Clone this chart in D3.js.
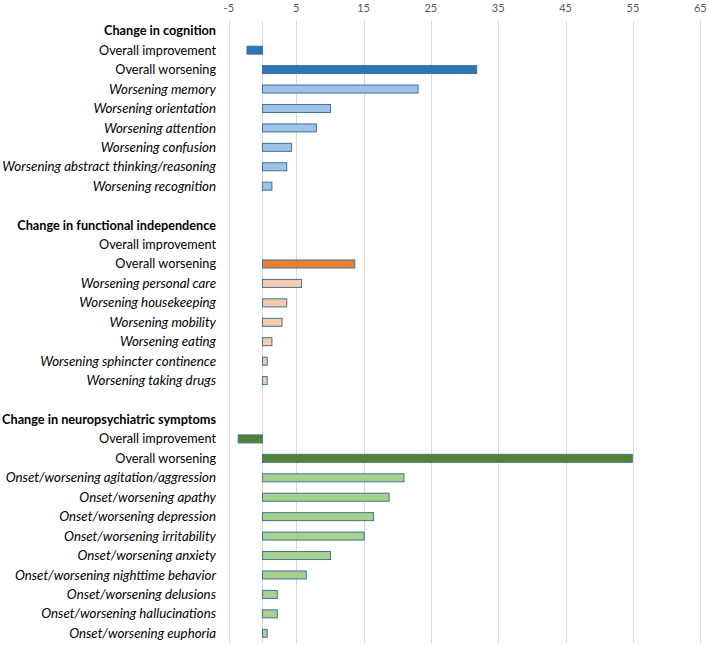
<!DOCTYPE html>
<html>
<head>
<meta charset="utf-8">
<script src="https://cdn.jsdelivr.net/npm/d3@7"></script>
<style>
body{margin:0;background:#fff}
text{font-family:Lato,"Open Sans",sans-serif}
</style>
</head>
<body>
<svg id="svg" width="709" height="646"></svg>
<script>
var width=+d3.select("#svg").attr("width")
var height=+d3.select("#svg").attr("height")

var groupTitles=["Change in cognition","Change in functional independence","Change in neuropsychiatric symptoms"]

var cognitionLabels=["Overall improvement","Overall worsening","Worsening memory","Worsening orientation","Worsening attention","Worsening confusion","Worsening abstract thinking/reasoning","Worsening recognition"]
var cognitionValues=[-2.3,31.8,23.1,10.1,8.0,4.3,3.6,1.4]

var functionLabels=["Overall improvement","Overall worsening","Worsening personal care","Worsening housekeeping","Worsening mobility","Worsening eating","Worsening sphincter continence","Worsening taking drugs"]
var functionValues=[null,13.7,5.8,3.6,2.9,1.4,0.7,0.7]

var neuroLabels=["Overall improvement","Overall worsening","Onset/worsening agitation/aggression","Onset/worsening apathy","Onset/worsening depression","Onset/worsening irritability","Onset/worsening anxiety ","Onset/worsening nighttime behavior","Onset/worsening delusions","Onset/worsening hallucinations","Onset/worsening euphoria"]
var neuroValues=[-3.6,54.9,21.0,18.8,16.5,15.1,10.1,6.5,2.2,2.2,0.7]

var tickValues=[-5,5,15,25,35,45,55,65]

var overallColors=["#2e75b6","#ed7d31","#548235"]
var itemColors=["#9dc3e6","#f8cbad","#a9d18e"]

var labelRight=216;
var plotTop=21, plotBottom=643;

//build row list: header, items, blank spacer
var rows=[]
var groupData=[[cognitionLabels,cognitionValues],[functionLabels,functionValues],[neuroLabels,neuroValues]]
groupData.forEach((g,gi)=>{
    rows.push({type:"header",label:groupTitles[gi],group:gi})
    g[0].forEach((lab,i)=>{
        rows.push({type:i<2?"overall":"item",label:lab,value:g[1][i],group:gi})
    })
    if (gi<groupData.length-1) rows.push({type:"blank",label:"",group:gi})
})
rows.forEach((r,i)=>r.id=i)

var svg=d3.select("#svg")

var x=d3.scaleLinear()
        .domain([-5,65])
        .range([228.8,700.3])

var y=d3.scaleBand()
        .domain(rows.map(d=>d.id))
        .range([plotTop,plotBottom])

var barHeight=8;

//gridlines (plus the category axis at 0)
svg.append("g").selectAll("line")
    .data(tickValues.concat([0]))
    .enter().append("line")
        .attr("x1",d=>Math.round(x(d))+0.5)
        .attr("x2",d=>Math.round(x(d))+0.5)
        .attr("y1",plotTop)
        .attr("y2",plotBottom)
        .style("stroke","#d9d9d9")
        .style("stroke-width","1px")

//tick labels
svg.append("g").selectAll("text")
    .data(tickValues)
    .enter().append("text")
        .text(d=>d)
        .attr("x",d=>x(d))
        .attr("y",12)
        .attr("text-anchor","middle")
        .style("font-size","11px")
        .style("fill","#595959")

//bars
svg.append("g").selectAll("rect")
    .data(rows.filter(d=>d.value!=null&&d.type!="header"&&d.type!="blank"))
    .enter().append("rect")
        .attr("x",d=>x(Math.min(0,d.value)))
        .attr("width",d=>Math.abs(x(d.value)-x(0)))
        .attr("y",d=>y(d.id)+y.bandwidth()/2-barHeight/2)
        .attr("height",barHeight)
        .style("fill",d=>d.type=="overall"?overallColors[d.group]:itemColors[d.group])
        .style("stroke","#41719c")
        .style("stroke-width","1px")

//row labels
svg.append("g").selectAll("text")
    .data(rows.filter(d=>d.type!="blank"))
    .enter().append("text")
        .text(d=>d.label)
        .attr("x",labelRight)
        .attr("y",d=>y(d.id)+y.bandwidth()/2)
        .attr("dy","0.35em")
        .attr("text-anchor","end")
        .style("font-size",d=>d.type=="item"?"13.3px":"12.7px")
        .style("font-weight",d=>d.type=="header"?"bold":"normal")
        .style("font-style",d=>d.type=="item"?"italic":"normal")
        .style("fill","#000")
</script>
</body>
</html>
